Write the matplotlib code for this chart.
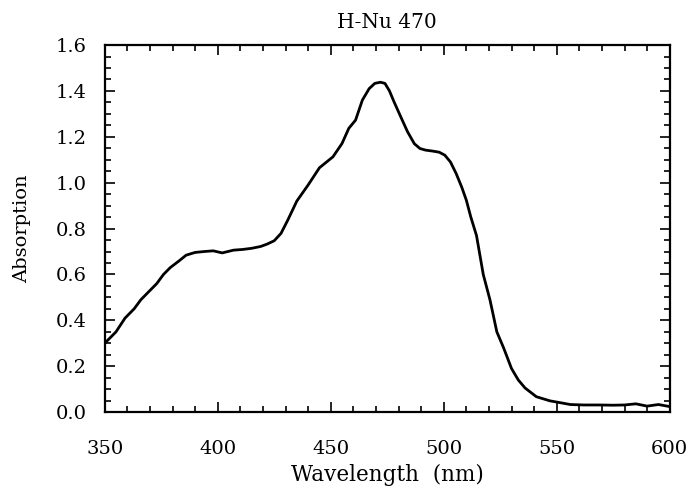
import numpy as np
import matplotlib
matplotlib.use("Agg")
from matplotlib import pyplot as plt
from matplotlib.ticker import MultipleLocator

# spectrum
wavelength = [350, 355, 359, 363, 366, 370, 373, 376, 379, 383, 386, 390, 394, 398,
              402, 407, 411, 415, 419, 422, 425, 428, 431, 435, 440, 445, 451, 455,
              458, 461, 464, 467, 469.5, 472, 474, 476, 478, 481, 484, 487, 489.5,
              492, 495, 498, 500.5, 503, 505.5, 508, 510, 512, 514.5, 517.5, 520.5,
              523.5, 526.5, 530, 533, 536, 541, 547, 551, 556, 562, 569, 575, 580,
              585, 590, 595, 600]
absorption = [0.30, 0.35, 0.41, 0.45, 0.49, 0.53, 0.56, 0.60, 0.63, 0.66, 0.684,
              0.696, 0.700, 0.703, 0.694, 0.706, 0.709, 0.714, 0.722, 0.733, 0.747,
              0.779, 0.837, 0.92, 0.99, 1.065, 1.113, 1.171, 1.237, 1.273, 1.36,
              1.41, 1.433, 1.438, 1.433, 1.40, 1.353, 1.287, 1.222, 1.17, 1.149,
              1.142, 1.138, 1.133, 1.12, 1.09, 1.04, 0.98, 0.924, 0.85, 0.77, 0.60,
              0.488, 0.35, 0.28, 0.19, 0.14, 0.105, 0.067, 0.049, 0.042, 0.033,
              0.031, 0.031, 0.030, 0.031, 0.036, 0.026, 0.033, 0.024]

plt.rcParams['font.family'] = ['DejaVu Serif']

fig = plt.figure(figsize=(6.89, 4.9), dpi=100)
ax = fig.add_axes([0.152, 0.159, 0.820, 0.749])

ax.plot(wavelength, absorption, color="black", linewidth=2.0)

ax.set_xlim(350, 600)
ax.set_ylim(0, 1.6)
ax.xaxis.set_major_locator(MultipleLocator(50))
ax.xaxis.set_minor_locator(MultipleLocator(10))
ax.yaxis.set_major_locator(MultipleLocator(0.2))
ax.yaxis.set_minor_locator(MultipleLocator(0.05))
ax.yaxis.set_major_formatter(plt.FuncFormatter(lambda v, p: f"{v:.1f}"))

ax.tick_params(which="both", direction="in", top=True, right=True, width=1.2,
               labelsize=14)
ax.tick_params(axis="x", which="major", length=7, pad=20)
ax.tick_params(axis="y", which="major", length=7, pad=13)
ax.tick_params(which="minor", length=4.5)
for s in ax.spines.values():
    s.set_linewidth(1.6)

ax.set_title("H-Nu 470", fontsize=14.5, pad=12)
ax.set_xlabel("Wavelength  (nm)", fontsize=15.5, labelpad=4)
ax.set_ylabel("Absorption", fontsize=14, labelpad=18)

fig.savefig("out.png", dpi=100)
